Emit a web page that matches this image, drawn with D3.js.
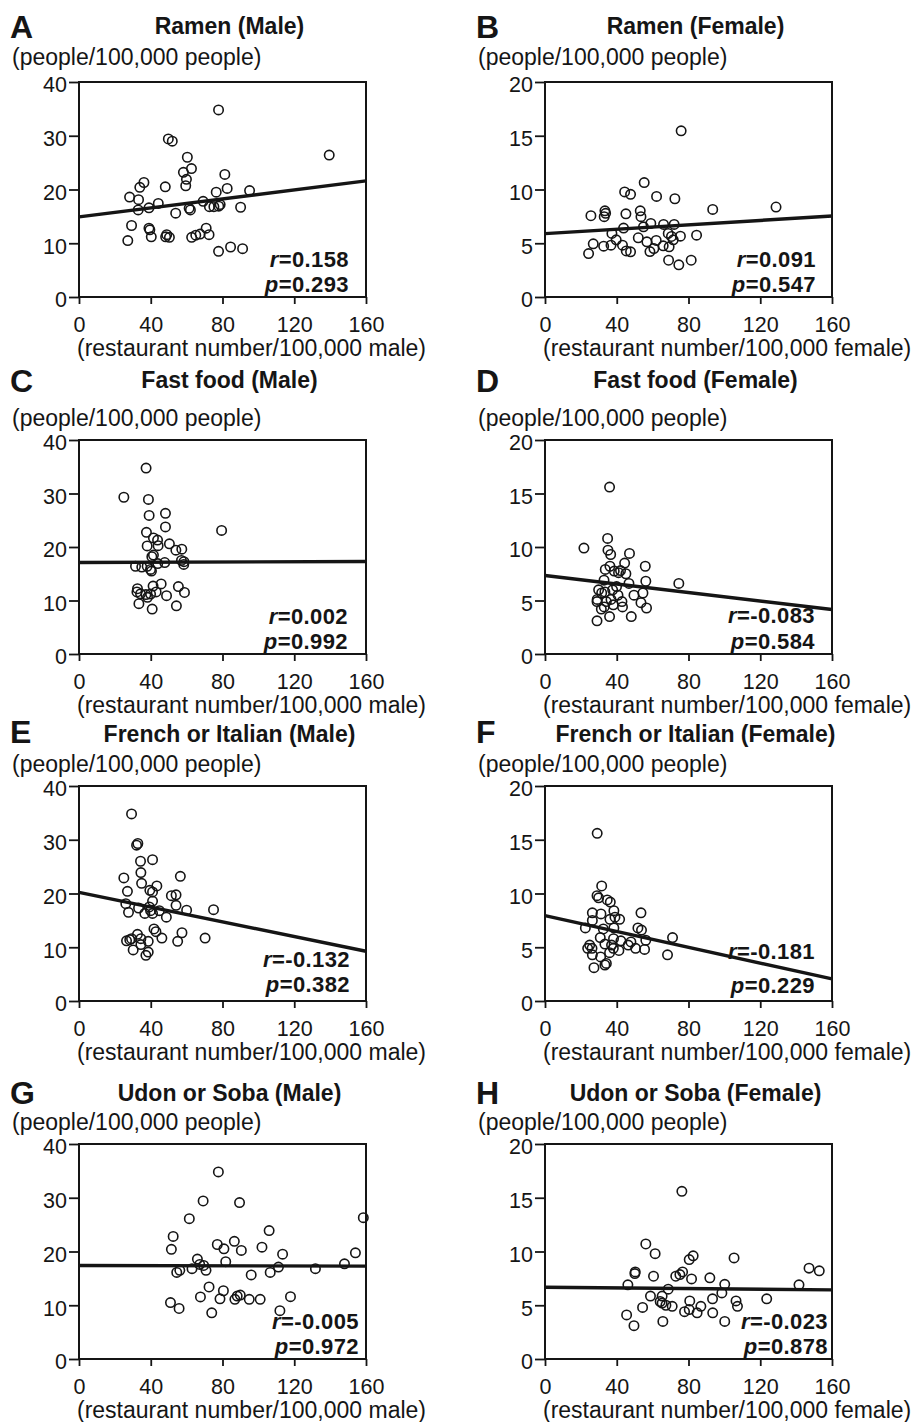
<!DOCTYPE html>
<html>

<head>
    <meta charset="utf-8">
    <title>Restaurant density vs. mortality</title>
    <script src="https://d3js.org/d3.v7.min.js"></script>
    <style>
        body { margin: 0; background: #fff; }
        text { font-family: "Liberation Sans", Arial, sans-serif; fill: #151515; }
    </style>
</head>

<body>
    <svg width="919" height="1422"></svg>
    <script>
        // --- data: [restaurants per 100,000, people per 100,000] ---
        var ramenMale = [[77.8, 34.8], [49.8, 29.4], [52.0, 29.0], [139.5, 26.4], [60.4, 26.0], [62.7, 23.9], [58.2, 23.2],
            [81.3, 22.8], [59.9, 21.9], [36.2, 21.3], [33.9, 20.4], [48.1, 20.5], [59.5, 20.7], [82.6, 20.2], [76.5, 19.5],
            [95.1, 19.8], [28.2, 18.6], [33.2, 18.1], [44.2, 17.4], [69.2, 17.8], [33.0, 16.2], [39.0, 16.6], [53.9, 15.6],
            [61.4, 16.5], [62.1, 16.2], [72.7, 16.8], [75.2, 16.8], [77.9, 16.9], [78.7, 17.2], [90.1, 16.7], [29.3, 13.3],
            [39.0, 12.8], [39.5, 12.5], [70.9, 12.8], [27.2, 10.5], [40.3, 11.2], [48.9, 11.6], [48.3, 11.2], [50.4, 11.1],
            [62.8, 11.1], [65.1, 11.5], [67.5, 11.7], [72.5, 11.6], [77.8, 8.5], [84.5, 9.3], [91.2, 9.0]];
        var ramenFemale = [[75.9, 15.46], [55.3, 10.64], [44.4, 9.77], [47.7, 9.55], [62.2, 9.36], [72.4, 9.14], [93.5, 8.15],
            [128.8, 8.37], [25.6, 7.56], [33.4, 8.02], [33.8, 7.78], [33.0, 7.47], [45.1, 7.74], [53.1, 8.02], [53.5, 7.47],
            [43.8, 6.41], [54.9, 6.53], [59.0, 6.84], [66.1, 6.75], [72.0, 6.75], [37.3, 5.91], [39.7, 5.32], [26.9, 4.95],
            [32.7, 4.73], [36.8, 4.82], [43.2, 4.82], [24.3, 4.04], [45.3, 4.29], [47.7, 4.20], [52.0, 5.51], [56.8, 5.13],
            [62.0, 5.26], [58.5, 4.23], [60.7, 4.51], [65.9, 4.76], [69.2, 4.67], [68.7, 5.91], [70.5, 5.63], [71.5, 5.32],
            [75.5, 5.66], [84.5, 5.75], [68.9, 3.42], [74.6, 2.99], [81.5, 3.42]];
        var fastFoodMale = [[37.4, 34.75], [25.0, 29.3], [38.7, 28.9], [39.1, 25.9], [48.2, 26.3], [48.2, 23.75], [79.5, 23.1],
            [37.6, 22.75], [41.5, 21.7], [43.8, 21.3], [38.0, 20.2], [44.1, 20.25], [50.4, 20.6], [54.0, 19.4], [57.3, 19.6],
            [40.6, 18.2], [41.5, 18.5], [47.8, 17.1], [57.1, 17.5], [58.5, 17.25], [58.4, 16.75], [31.5, 16.4], [35.0, 16.25],
            [38.0, 16.4], [39.9, 15.8], [40.4, 15.5], [43.9, 16.9], [32.6, 12.2], [32.3, 11.6], [34.3, 11.25], [37.3, 11.1],
            [39.9, 11.2], [41.3, 12.7], [43.0, 11.6], [45.8, 13.1], [48.8, 10.9], [55.4, 12.6], [58.8, 11.5], [33.4, 9.4],
            [38.2, 10.6], [40.8, 8.4], [54.3, 9.0]];
        var fastFoodFemale = [[36.0, 15.6], [34.9, 10.8], [21.7, 9.9], [35.1, 9.7], [36.6, 9.3], [47.1, 9.4], [44.4, 8.5],
            [55.9, 8.2], [33.6, 7.9], [36.2, 8.2], [38.6, 7.75], [41.0, 7.6], [42.1, 7.8], [45.1, 7.5], [32.9, 6.9], [46.8, 6.6],
            [56.2, 6.8], [74.6, 6.6], [29.9, 6.0], [33.4, 5.8], [37.7, 6.0], [40.7, 5.5], [29.1, 5.1], [29.0, 4.9], [34.2, 4.9],
            [36.8, 5.1], [42.9, 4.9], [49.6, 5.5], [54.6, 5.7], [53.5, 4.8], [31.4, 4.2], [33.0, 4.4], [38.1, 4.6], [43.2, 4.4],
            [56.6, 4.3], [29.0, 3.1], [36.0, 3.5], [48.1, 3.5], [31.6, 5.7], [39.9, 6.3]];
        var frenchItalianMale = [[29.3, 34.8], [32.1, 29.0], [32.8, 29.3], [34.3, 26.0], [41.0, 26.3], [34.5, 23.9], [25.0, 22.9],
            [56.5, 23.2], [34.9, 21.9], [27.0, 20.4], [39.5, 20.6], [41.0, 20.3], [43.4, 21.4], [51.5, 19.6], [54.1, 19.75],
            [26.1, 18.1], [41.0, 18.6], [54.1, 17.8], [27.6, 16.5], [33.2, 17.3], [36.7, 16.3], [39.2, 17.5], [39.9, 16.8],
            [41.0, 16.3], [44.8, 16.8], [48.7, 15.6], [60.0, 16.9], [75.0, 17.0], [41.8, 13.4], [42.9, 12.9], [46.2, 11.7],
            [57.4, 12.7], [55.0, 11.1], [70.3, 11.7], [26.5, 11.2], [28.3, 11.4], [29.3, 11.6], [32.6, 12.4], [34.5, 11.6],
            [30.2, 9.5], [34.5, 10.5], [38.6, 11.1], [37.3, 8.5], [38.6, 9.1]];
        var frenchItalianFemale = [[29.1, 15.6], [31.6, 10.7], [29.0, 9.8], [29.9, 9.6], [34.7, 9.4], [36.4, 9.2], [38.4, 8.4],
            [53.5, 8.2], [26.4, 8.2], [31.2, 8.1], [26.4, 7.5], [22.5, 6.8], [36.2, 7.6], [39.0, 7.8], [41.6, 7.6], [32.5, 6.7],
            [38.4, 6.8], [51.8, 6.8], [53.8, 6.6], [30.8, 5.9], [38.2, 5.8], [42.3, 5.6], [47.9, 5.5], [56.2, 5.65], [71.1, 5.9],
            [33.4, 5.3], [24.9, 5.2], [23.8, 4.9], [26.2, 4.9], [38.1, 4.9], [41.2, 4.7], [46.4, 5.2], [50.5, 4.9], [55.5, 4.8],
            [26.4, 4.3], [31.0, 4.1], [36.0, 4.5], [34.2, 3.5], [33.4, 3.35], [27.3, 3.1], [68.3, 4.3], [37.1, 5.2]];
        var udonSobaMale = [[77.7, 34.8], [69.2, 29.4], [89.5, 29.1], [61.5, 26.1], [158.5, 26.3], [106.0, 23.9], [52.5, 22.8],
            [51.5, 20.4], [77.1, 21.3], [80.8, 20.5], [86.6, 21.9], [90.5, 20.2], [102.0, 20.8], [113.5, 19.5], [154.1, 19.75],
            [66.0, 18.6], [81.8, 18.1], [67.3, 17.6], [69.5, 17.4], [70.8, 16.5], [54.5, 16.1], [56.2, 16.5], [63.0, 16.8],
            [96.0, 15.65], [106.6, 16.1], [111.2, 17.1], [131.8, 16.8], [148.0, 17.7], [72.5, 13.4], [80.5, 12.7], [51.0, 10.5],
            [55.8, 9.4], [67.7, 11.55], [78.6, 11.2], [86.9, 11.1], [88.2, 11.7], [89.9, 11.9], [94.9, 11.1], [101.0, 11.1],
            [117.9, 11.6], [74.0, 8.6], [112.0, 9.0]];
        var udonSobaFemale = [[76.3, 15.6], [56.2, 10.7], [61.4, 9.8], [82.6, 9.6], [80.4, 9.25], [105.4, 9.4], [50.3, 8.1],
            [50.1, 7.95], [76.7, 8.1], [75.2, 7.85], [72.9, 7.7], [60.5, 7.7], [81.7, 7.45], [91.9, 7.55], [147.2, 8.45],
            [152.9, 8.2], [46.2, 6.9], [68.7, 6.5], [100.2, 6.95], [141.6, 6.9], [98.6, 6.15], [58.8, 5.85], [65.3, 5.85],
            [64.2, 5.35], [65.3, 5.2], [67.4, 5.0], [70.9, 4.9], [80.7, 5.4], [86.9, 4.9], [93.4, 5.6], [106.5, 5.4], [107.3, 4.9],
            [123.6, 5.6], [54.4, 4.8], [45.5, 4.1], [49.6, 3.1], [65.7, 3.5], [77.8, 4.4], [80.4, 4.6], [84.8, 4.3], [93.5, 4.3],
            [100.2, 3.5]];

        var panelLetters = ["A", "B", "C", "D", "E", "F", "G", "H"];
        var panelTitles = ["Ramen (Male)", "Ramen (Female)", "Fast food (Male)", "Fast food (Female)",
            "French or Italian (Male)", "French or Italian (Female)", "Udon or Soba (Male)", "Udon or Soba (Female)"];
        var rValues = ["0.158", "0.091", "0.002", "-0.083", "-0.132", "-0.181", "-0.005", "-0.023"];
        var pValues = ["0.293", "0.547", "0.992", "0.584", "0.382", "0.229", "0.972", "0.878"];
        // regression line value at x = 0 and at x = 160
        var fitStart = [14.9, 5.9, 17.1, 7.34, 20.2, 7.95, 17.4, 6.68];
        var fitEnd = [21.6, 7.53, 17.3, 4.16, 9.25, 2.05, 17.27, 6.43];
        var xTicks = [0, 40, 80, 120, 160];
        var yTicksMale = [0, 10, 20, 30, 40];
        var yTicksFemale = [0, 5, 10, 15, 20];
        var xTitles = ["(restaurant number/100,000 male)", "(restaurant number/100,000 female)"];
        var yTitle = "(people/100,000 people)";

        var datasets = [ramenMale, ramenFemale, fastFoodMale, fastFoodFemale,
            frenchItalianMale, frenchItalianFemale, udonSobaMale, udonSobaFemale];

        // --- layout (pixels) ---
        var colLeft = [79, 545];
        var colRight = [366, 832];
        var rowTop = [82, 440, 786, 1144];
        var rowBottom = [297, 654, 1001, 1359];
        var letterBase = [38, 392, 743, 1104];
        var titleBase = [34, 388, 742, 1101];
        var yTitleBase = [65, 426, 772, 1130];
        // r / p label offsets from bottom-right corner of the plot
        var statDx = [-17, -16, -18, -17, -16, -17, -7, -4];
        var statRy = [-30, -30, -30, -31, -34, -42, -30, -30];
        var statPy = [-5, -5, -5, -5, -9, -8, -5, -5];

        var ink = "#151515";
        var svg = d3.select("svg");

        datasets.forEach(function (dati, i) {
            var col = i % 2;
            var row = Math.floor(i / 2);
            var left = colLeft[col], right = colRight[col];
            var top = rowTop[row], bottom = rowBottom[row];
            var yTicks = col == 0 ? yTicksMale : yTicksFemale;

            var scalaX = d3.scaleLinear().domain([0, 160]).range([left, right]);
            var scalaY = d3.scaleLinear().domain([0, d3.max(yTicks)]).range([bottom, top]);

            // panel letter and title
            svg.append("text")
                .attr("x", left - 69)
                .attr("y", letterBase[row])
                .style("font-size", "32px")
                .style("font-weight", "bold")
                .text(panelLetters[i]);

            svg.append("text")
                .attr("x", (left + right) / 2 + 7)
                .attr("y", titleBase[row])
                .style("font-size", "23px")
                .style("font-weight", "bold")
                .style("text-anchor", "middle")
                .text(panelTitles[i]);

            svg.append("text")
                .attr("x", left - 67)
                .attr("y", yTitleBase[row])
                .style("font-size", "23px")
                .text(yTitle);

            // axes
            var asseY = d3.axisLeft(scalaY).tickValues(yTicks).tickSize(10).tickPadding(2).tickSizeOuter(0);
            var gY = svg.append("g")
                .attr("transform", "translate(" + left + ",0)")
                .call(asseY);
            var asseX = d3.axisBottom(scalaX).tickValues(xTicks).tickSize(7).tickPadding(13).tickSizeOuter(0);
            var gX = svg.append("g")
                .attr("transform", "translate(0," + bottom + ")")
                .call(asseX);
            [gX, gY].forEach(function (g) {
                g.select(".domain").remove();
                g.selectAll("line").attr("stroke", ink).attr("stroke-width", 1.8);
                g.selectAll("text")
                    .attr("fill", ink)
                    .style("font-family", "'Liberation Sans', Arial, sans-serif")
                    .style("font-size", "21.5px");
            });
            gY.selectAll("text").attr("y", 3);

            svg.append("rect")
                .attr("x", left)
                .attr("y", top)
                .attr("width", right - left)
                .attr("height", bottom - top)
                .attr("fill", "none")
                .attr("stroke", ink)
                .attr("stroke-width", 2);

            svg.append("text")
                .attr("x", left - 2)
                .attr("y", bottom + 59)
                .style("font-size", "23px")
                .text(xTitles[col]);

            // regression line
            svg.append("line")
                .attr("x1", scalaX(0))
                .attr("y1", scalaY(fitStart[i]))
                .attr("x2", scalaX(160))
                .attr("y2", scalaY(fitEnd[i]))
                .attr("stroke", ink)
                .attr("stroke-width", 3.4);

            // points
            svg.selectAll(".pt" + i)
                .data(dati)
                .enter()
                .append("circle")
                .attr("class", "pt" + i)
                .attr("cx", function (d) { return scalaX(d[0]); })
                .attr("cy", function (d) { return scalaY(d[1]); })
                .attr("r", 4.7)
                .attr("fill", "none")
                .attr("stroke", ink)
                .attr("stroke-width", 1.6);

            // r and p
            var tr = svg.append("text")
                .attr("x", right + statDx[i])
                .attr("y", bottom + statRy[i])
                .style("font-size", "22px")
                .style("letter-spacing", "0.4px")
                .style("font-weight", "bold")
                .style("text-anchor", "end");
            tr.append("tspan").style("font-style", "italic").text("r");
            tr.append("tspan").text("=" + rValues[i]);

            var tp = svg.append("text")
                .attr("x", right + statDx[i])
                .attr("y", bottom + statPy[i])
                .style("font-size", "22px")
                .style("letter-spacing", "0.4px")
                .style("font-weight", "bold")
                .style("text-anchor", "end");
            tp.append("tspan").style("font-style", "italic").text("p");
            tp.append("tspan").text("=" + pValues[i]);
        });
    </script>
</body>

</html>
